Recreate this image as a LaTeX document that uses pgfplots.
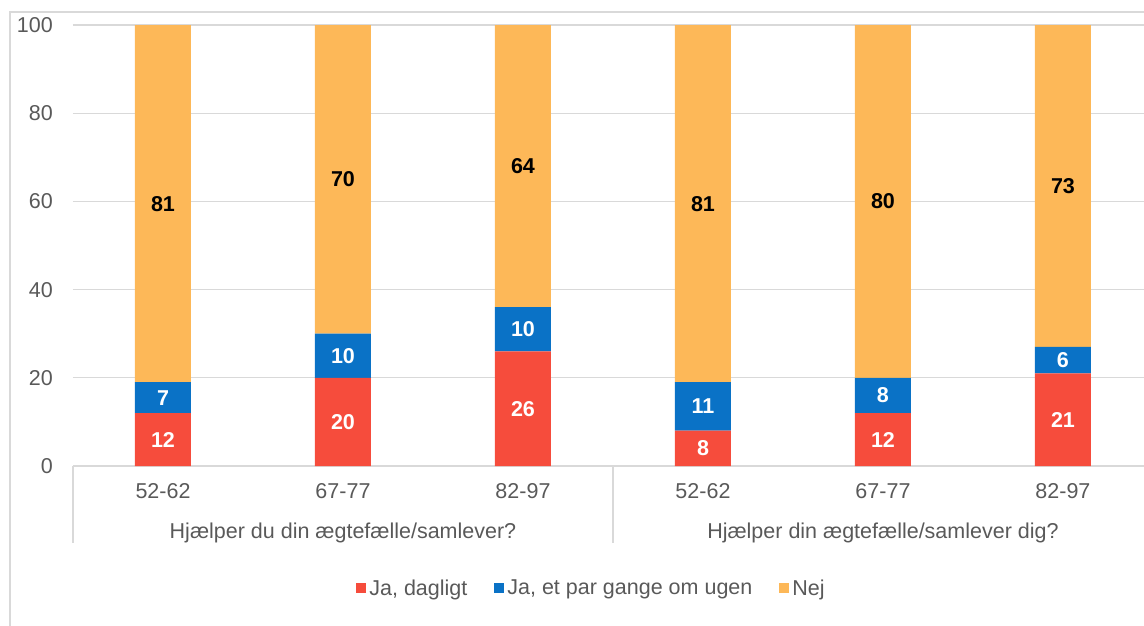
\documentclass[border=0pt]{standalone}
\usepackage{pgfplots}
\usepackage{pgfplotstable}
\pgfplotsset{compat=1.18}
\usepackage{fontspec}
\setmainfont{Liberation Sans}
\definecolor{cred}{HTML}{F64C3C}
\definecolor{cblue}{HTML}{0A72C6}
\definecolor{corange}{HTML}{FDB858}
\definecolor{cgrid}{HTML}{D9D9D9}
\definecolor{ctext}{HTML}{595959}
\newcommand{\lblfont}{\fontsize{21.5}{25}\selectfont}
\pgfplotstableread{
x a b c
0 12 7 81
1 20 10 70
2 26 10 64
3 8 11 81
4 12 8 80
5 21 6 73
}\data
\begin{document}
\begin{tikzpicture}
\useasboundingbox (0,0) rectangle (1144pt,-626pt);
\clip (0,0) rectangle (1144pt,-626pt);
\draw[cgrid, line width=1.3pt] (10pt,-1000pt) -- (10pt,-12pt) -- (1300pt,-12pt);
\begin{axis}[
  at={(73pt,-466pt)}, anchor=south west,
  scale only axis, width=1080pt, height=441pt,
  xmin=-0.5, xmax=5.5, ymin=0, ymax=100,
  ybar stacked, bar width=56pt,
  axis line style={draw=none},
  ymajorgrids, grid style={cgrid, line width=1.3pt},
  major tick length=0pt,
  ytick={0,20,40,60,80,100},
  /pgf/number format/assume math mode=true,
  yticklabel style={font=\lblfont, text=ctext, anchor=east, inner sep=0pt, xshift=-20pt},
  xtick={0,1,2,3,4,5},
  xticklabels={52-62,67-77,82-97,52-62,67-77,82-97},
  xticklabel style={font=\lblfont, text=ctext, anchor=north, inner sep=0pt, yshift=-17pt},
  legend columns=3,
  legend style={at={(0.4806,-0.2766)}, anchor=center, draw=none, fill=none,
    font=\lblfont, text=ctext,
    /tikz/every even column/.append style={column sep=24pt},
    /tikz/every node/.append style={inner xsep=3pt}},
  legend image code/.code={\fill[#1] (0pt,-5pt) rectangle (10pt,5pt);},
  clip=false,
]
\addplot[fill=cred, draw=none] table[x=x, y=a] {\data};
\addplot[fill=cblue, draw=none] table[x=x, y=b] {\data};
\addplot[fill=corange, draw=none] table[x=x, y=c] {\data};
\legend{{Ja, dagligt}, {Ja, et par gange om ugen}, {Nej}}
\draw[cgrid, line width=1.3pt] (axis cs:-0.5,0) -- ([yshift=-77pt]axis cs:-0.5,0);
\draw[cgrid, line width=1.3pt] (axis cs:2.5,0) -- ([yshift=-77pt]axis cs:2.5,0);
\draw[cgrid, line width=1.3pt] (axis cs:5.5,0) -- ([yshift=-77pt]axis cs:5.5,0);
\node[anchor=base, text=ctext, font=\lblfont] at ([yshift=-72pt]axis cs:1,0) {Hjælper du din ægtefælle/samlever?};
\node[anchor=base, text=ctext, font=\lblfont] at ([yshift=-72pt]axis cs:4,0) {Hjælper din ægtefælle/samlever dig?};
\end{axis}
\begin{axis}[
  at={(73pt,-466pt)}, anchor=south west,
  scale only axis, width=1080pt, height=441pt,
  xmin=-0.5, xmax=5.5, ymin=0, ymax=100,
  hide axis,
  /pgf/number format/assume math mode=true,
  nodes near coords, point meta=explicit,
  every node near coord/.append style={anchor=center, font=\bfseries\lblfont},
]
\addplot[draw=none, mark=none, every node near coord/.append style={text=white}] table[x=x, y expr=\thisrow{a}/2, meta=a] {\data};
\addplot[draw=none, mark=none, every node near coord/.append style={text=white}] table[x=x, y expr=\thisrow{a}+\thisrow{b}/2, meta=b] {\data};
\addplot[draw=none, mark=none, every node near coord/.append style={text=black}] table[x=x, y expr=\thisrow{a}+\thisrow{b}+\thisrow{c}/2, meta=c] {\data};
\end{axis}
\end{tikzpicture}
\end{document}
